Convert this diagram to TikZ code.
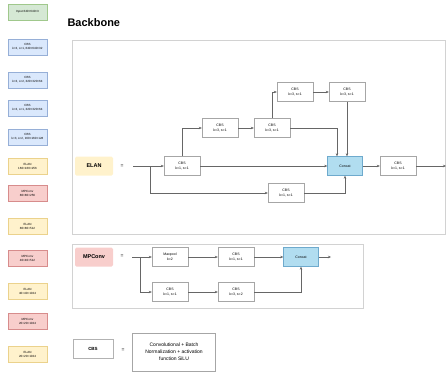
\documentclass[tikz,border=0pt]{standalone}
\usepackage{fontspec}
\setmainfont{Liberation Sans}
\usetikzlibrary{arrows.meta}
\usetikzlibrary{positioning}

\definecolor{ingreen}{RGB}{213,232,212}
\definecolor{ingreenline}{RGB}{160,200,140}
\definecolor{cbsblue}{RGB}{218,232,252}
\definecolor{cbsblueline}{RGB}{150,175,215}
\definecolor{elanyellow}{RGB}{255,242,204}
\definecolor{elanyellowline}{RGB}{235,210,140}
\definecolor{mpred}{RGB}{248,206,204}
\definecolor{mpredline}{RGB}{215,140,140}
\definecolor{catblue}{RGB}{177,221,240}
\definecolor{catblueline}{RGB}{110,170,205}

\tikzset{
  colbox/.style 2 args={draw=#2, fill=#1, minimum width=39pt, minimum height=16pt,
    inner sep=0pt, align=center, font=\fontsize{3}{4}\selectfont},
  cbsbox/.style={draw=gray!70, fill=white, minimum width=36pt, minimum height=19pt,
    inner sep=0pt, align=center, font=\fontsize{3.5}{5}\selectfont},
  catbox/.style={draw=catblueline, fill=catblue, minimum width=35pt, minimum height=19pt,
    inner sep=0pt, font=\fontsize{3.5}{5}\selectfont},
  blocklabel/.style={fill=#1, rounded corners=1.5pt, minimum width=38pt, minimum height=19pt,
    inner sep=0pt, font=\fontsize{5.5}{6}\selectfont\bfseries},
  eqsign/.style={font=\fontsize{5}{6}\selectfont, inner sep=0pt},
  frame/.style={draw=gray!35, line width=0.8pt},
  arr/.style={draw=gray!80!black, line width=0.4pt, -{Stealth[length=3pt,width=2.5pt]}}
}

\begin{document}
\begin{tikzpicture}[x=1pt,y=-1pt]
  \useasboundingbox (0,0) rectangle (447,373);

  % layer list on the left
  \foreach \i/\yy/\f/\d/\t in {
      0/12/ingreen/ingreenline/{Input 640×640×3},
      1/47/cbsblue/cbsblueline/{CBS\\k=3, s=1, 640×640×32},
      2/80/cbsblue/cbsblueline/{CBS\\k=3, s=2, 320×320×64},
      3/108/cbsblue/cbsblueline/{CBS\\k=3, s=1, 320×320×64},
      4/137/cbsblue/cbsblueline/{CBS\\k=3, s=2, 160×160×128},
      5/166/elanyellow/elanyellowline/{ELAN\\160×160×256},
      6/193/mpred/mpredline/{MPConv\\80×80×256},
      7/226/elanyellow/elanyellowline/{ELAN\\80×80×512},
      8/258/mpred/mpredline/{MPConv\\40×40×512},
      9/291/elanyellow/elanyellowline/{ELAN\\40×40×1024},
      10/321/mpred/mpredline/{MPConv\\20×20×1024},
      11/354/elanyellow/elanyellowline/{ELAN\\20×20×1024}}
    \node[colbox={\f}{\d}] (layer\i) at (27.5,\yy) {\t};

  \node[font=\fontsize{11}{12}\selectfont\bfseries, anchor=west] (title) at (64,23) {Backbone};

  % ELAN block
  \draw[frame] (72,40) rectangle (445,234);
  \node[blocklabel=elanyellow] (elan) at (94,166) {ELAN};
  \node[eqsign] (elaneq) at (122,166) {=};
  \coordinate (es) at (133,166);
  \coordinate (eb) at (150,166);
  \coordinate (eout) at (446,166);
  \node[cbsbox] (ea) at (182,166) {CBS\\k=1, s=1};
  \node[cbsbox] (eb1) at (220,128) {CBS\\k=3, s=1};
  \node[cbsbox] (ec) at (272,128) {CBS\\k=3, s=1};
  \node[cbsbox] (ed) at (295,92) {CBS\\k=3, s=1};
  \node[cbsbox] (ee) at (347,92) {CBS\\k=3, s=1};
  \node[cbsbox] (ef) at (286,193) {CBS\\k=1, s=1};
  \node[catbox] (ecat) at (345,166) {Concat};
  \node[cbsbox] (eg) at (398,166) {CBS\\k=1, s=1};

  \draw[arr] (es) -- (ea);
  \draw[arr] (eb) |- (ef.west);
  \draw[arr] (ea.north) |- (eb1.west);
  \draw[arr] (eb1) -- (ec);
  \draw[arr] (ec.north) |- (ed.west);
  \draw[arr] (ed) -- (ee);
  \draw[arr] (ee.south) -- (ee.south |- ecat.north);
  \draw[arr] (ec.east) -| ([xshift=-8pt]ecat.north);
  \draw[arr] (ea.east) -- (ecat.west);
  \draw[arr] (ef.east) -| (ecat.south);
  \draw[arr] (ecat) -- (eg);
  \draw[arr] (eg.east) -- (eout);

  % MPConv block
  \draw[frame] (72,244) rectangle (363,308);
  \node[blocklabel=mpred] (mp) at (94,257) {MPConv};
  \node[eqsign] (mpeq) at (122,256) {=};
  \coordinate (ms) at (132,257);
  \coordinate (mb) at (140,257);
  \coordinate (mout) at (331,257);
  \node[cbsbox] (mpool) at (170,257) {Maxpool\\k=2};
  \node[cbsbox] (mc1) at (236,257) {CBS\\k=1, s=1};
  \node[cbsbox] (mc2) at (170,292) {CBS\\k=1, s=1};
  \node[cbsbox] (mc3) at (236,292) {CBS\\k=3, s=2};
  \node[catbox] (mcat) at (301,257) {Concat};

  \draw[arr] (ms) -- (mpool);
  \draw[arr] (mb) |- (mc2.west);
  \draw[arr] (mpool) -- (mc1);
  \draw[arr] (mc2) -- (mc3);
  \draw[arr] (mc1) -- (mcat);
  \draw[arr] (mc3.east) -| (mcat.south);
  \draw[arr] (mcat) -- (mout);

  % legend
  \node[draw=gray!60, minimum width=40pt, minimum height=19pt, inner sep=0pt,
    font=\fontsize{4.5}{5}\selectfont\bfseries] (legcbs) at (93,349) {CBS};
  \node[eqsign] (legeq) at (123,350) {=};
  \node[draw=gray!70, minimum width=83pt, minimum height=38pt, inner sep=1pt, align=center,
    font=\fontsize{5}{7}\selectfont] (legdesc) at (174,352)
    {Convolutional + Batch\\Normalization + activation\\function SiLU};
\end{tikzpicture}
\end{document}
